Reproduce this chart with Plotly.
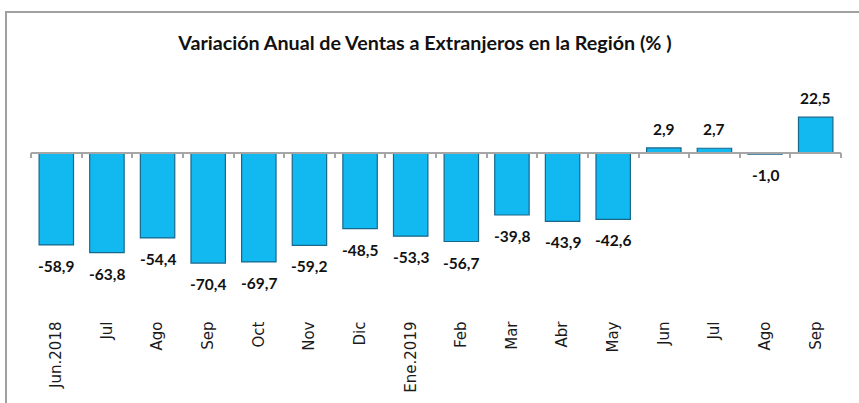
import plotly.graph_objects as go

categories = ["Jun.2018", "Jul", "Ago", "Sep", "Oct", "Nov", "Dic", "Ene.2019",
              "Feb", "Mar", "Abr", "May", "Jun", "Jul ", "Ago ", "Sep "]
tick_labels = ["Jun.2018", "Jul", "Ago", "Sep", "Oct", "Nov", "Dic", "Ene.2019",
               "Feb", "Mar", "Abr", "May", "Jun", "Jul", "Ago", "Sep"]
values = [-58.9, -63.8, -54.4, -70.4, -69.7, -59.2, -48.5, -53.3,
          -56.7, -39.8, -43.9, -42.6, 2.9, 2.7, -1.0, 22.5]
title = "Variación Anual de Ventas a Extranjeros en la Región (% )"

W, H = 859, 403
zero_px = 152.5
px_per_unit = 1.57
y_lo, y_hi = -100, 30
dom_top = 1 - (zero_px - y_hi * px_per_unit) / H
dom_bot = 1 - (zero_px - y_lo * px_per_unit) / H
x_dom = [31 / W, 841 / W]

def fmt(v):
    return f"{v:.1f}".replace(".", ",")

fig = go.Figure()
fig.add_trace(go.Bar(
    x=categories, y=values, width=0.68,
    marker=dict(color="#12B9F0", line=dict(color="#17678A", width=1.2)),
    hoverinfo="x+y", showlegend=False,
))
# invisible trace to drive the zero axis ticks
fig.add_trace(go.Scatter(x=categories, y=[0] * len(categories), xaxis="x2",
                         mode="markers", marker=dict(opacity=0),
                         showlegend=False, hoverinfo="skip"))

for c, v in zip(categories, values):
    fig.add_annotation(x=c, y=v, text=fmt(v), showarrow=False,
                       yanchor="middle", yshift=(19 if v > 0 else -21),
                       font=dict(family="Lato", size=15.5, color="#111111", weight="bold"))

fig.update_layout(
    width=W, height=H,
    margin=dict(l=0, r=0, t=0, b=0),
    paper_bgcolor="white", plot_bgcolor="white",
    title=dict(text="<b>" + title + "</b>", x=425 / W, xanchor="center",
               y=1 - 43 / H, yanchor="middle",
               font=dict(family="Lato", size=19.7, color="#111111")),
    xaxis=dict(domain=x_dom, type="category", categoryarray=categories,
               categoryorder="array", range=[-0.5, 15.5],
               showline=False, ticks="", showgrid=False, zeroline=False,
               tickmode="array", tickvals=categories, ticktext=tick_labels,
               tickangle=-90, ticklabelstandoff=8,
               tickfont=dict(family="DejaVu Sans", size=15, color="#1a1a1a")),
    xaxis2=dict(domain=x_dom, type="category", categoryarray=categories,
                categoryorder="array", range=[-0.5, 15.5], overlaying="x",
                anchor="free", position=1 - zero_px / H, side="bottom",
                showline=True, linecolor="#A6A6A6", linewidth=1.5,
                ticks="outside", tickson="boundaries", ticklen=5,
                tickcolor="#A6A6A6", tickwidth=1.5,
                showticklabels=False, showgrid=False, zeroline=False),
    yaxis=dict(domain=[dom_bot, dom_top], range=[y_lo, y_hi], visible=False,
               showgrid=False, zeroline=False),
    shapes=[dict(type="rect", xref="paper", yref="paper",
                 x0=6 / W, x1=1.05, y0=-0.05, y1=1 - 12 / H,
                 line=dict(color="#A0A0A0", width=2), fillcolor="rgba(0,0,0,0)",
                 layer="below")],
)

fig.write_html("out.html", config={"displayModeBar": False},
               post_script="document.body.style.margin='0';")
